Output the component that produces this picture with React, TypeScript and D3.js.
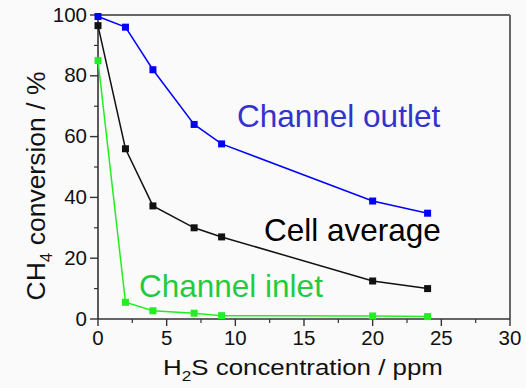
import React from "react";
import * as d3 from "d3";

// H2S concentration (ppm)
const h2s = [0, 2, 4, 7, 9, 20, 24];
// CH4 conversion (%)
const channelOutlet = [99.5, 96, 82, 64, 57.6, 38.8, 34.8];
const cellAverage = [96.5, 56, 37.2, 30, 27, 12.5, 10];
const channelInlet = [85, 5.5, 2.7, 1.9, 1.1, 1.0, 0.8];

const xTicks = [0, 5, 10, 15, 20, 25, 30];
const yTicks = [0, 20, 40, 60, 80, 100];

const series = [
  { name: "Channel outlet", values: channelOutlet, line: "#0000ff", text: "#3333cc", lx: 237, ly: 127 },
  { name: "Cell average", values: cellAverage, line: "#111111", text: "#000000", lx: 264, ly: 241 },
  { name: "Channel inlet", values: channelInlet, line: "#22ee22", text: "#1fcc3f", lx: 139, ly: 297 },
];

export default function App() {
  const W = 526;
  const H = 388;
  const x = d3.scaleLinear().domain([0, 30]).range([98, 510]);
  const y = d3.scaleLinear().domain([0, 100]).range([319, 15]);

  const line = d3
    .line<number>()
    .x((_, i) => x(h2s[i]))
    .y((v) => y(v));

  const xMinor = d3.range(0, 30.01, 2.5).filter((v) => !xTicks.includes(v));
  const yMinor = d3.range(0, 100.01, 10).filter((v) => !yTicks.includes(v));

  const font = "'Liberation Sans', Arial, sans-serif";
  const axisCol = "#333";

  return (
    <div style={{ position: "absolute", left: 0, top: 0 }}>
      <svg width={W} height={H} style={{ display: "block", fontFamily: font }}>
        <rect width={W} height={H} fill="#fafafa" />

        {/* frame: top and right */}
        <line x1={x(0)} x2={x(30)} y1={y(100)} y2={y(100)} stroke="#666" strokeWidth={2} />
        <line x1={x(30)} x2={x(30)} y1={y(100)} y2={y(0)} stroke="#666" strokeWidth={2} />

        {/* bottom axis */}
        <line x1={x(0)} x2={x(30)} y1={y(0)} y2={y(0)} stroke={axisCol} strokeWidth={1.6} />
        {xTicks.map((t) => (
          <g key={t}>
            <line x1={x(t)} x2={x(t)} y1={y(0)} y2={y(0) + 7} stroke={axisCol} strokeWidth={1.4} />
            <text x={x(t)} y={y(0) + 26} textAnchor="middle" fontSize={20.5} fill="#111">
              {t}
            </text>
          </g>
        ))}
        {xMinor.map((t) => (
          <line key={t} x1={x(t)} x2={x(t)} y1={y(0)} y2={y(0) + 4} stroke={axisCol} strokeWidth={1.2} />
        ))}

        {/* left axis */}
        <line x1={x(0)} x2={x(0)} y1={y(0)} y2={y(100)} stroke={axisCol} strokeWidth={1.6} />
        {yTicks.map((t) => (
          <g key={t}>
            <line x1={x(0) - 8} x2={x(0)} y1={y(t)} y2={y(t)} stroke={axisCol} strokeWidth={1.4} />
            <text x={x(0) - 11} y={y(t) + 6.5} textAnchor="end" fontSize={20.5} fill="#111">
              {t}
            </text>
          </g>
        ))}
        {yMinor.map((t) => (
          <line key={t} x1={x(0) - 4} x2={x(0)} y1={y(t)} y2={y(t)} stroke={axisCol} strokeWidth={1.2} />
        ))}

        {/* series */}
        {series.map((s) => (
          <g key={s.name}>
            <path d={line(s.values) ?? ""} fill="none" stroke={s.line} strokeWidth={1.5} />
            {s.values.map((v, i) => (
              <rect key={i} x={x(h2s[i]) - 3.5} y={y(v) - 3.5} width={7} height={7} fill={s.line} />
            ))}
          </g>
        ))}

        {/* annotations */}
        {series.map((s) => (
          <text key={s.name} x={s.lx} y={s.ly} fontSize={31.5} fill={s.text}>
            {s.name}
          </text>
        ))}

        {/* axis titles */}
        <text
          transform="translate(163,375) scale(1.15,1)"
          fontSize={22.5}
          fill="#111"
        >
          H<tspan fontSize={15} dy={6}>2</tspan>
          <tspan dy={-6}>S concentration / ppm</tspan>
        </text>
        <text
          transform="translate(45,186) rotate(-90)"
          textAnchor="middle"
          fontSize={26.5}
          fill="#111"
        >
          CH<tspan fontSize={17} dy={7}>4</tspan>
          <tspan dy={-7}> conversion / %</tspan>
        </text>
      </svg>
    </div>
  );
}
